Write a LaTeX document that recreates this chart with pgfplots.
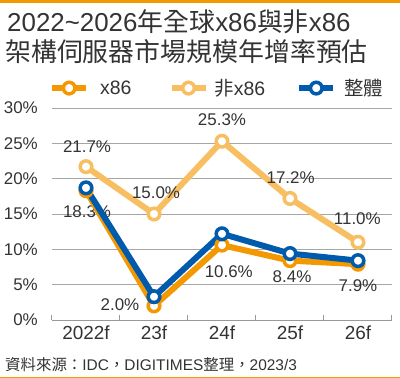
\documentclass[border=0pt]{standalone}
\usepackage{pgfplots}
\pgfplotsset{compat=1.18}
\usepackage{fontspec}
\setmainfont{Liberation Sans}
\newfontfamily\cjk{Noto Sans CJK TC}
\definecolor{cx}{HTML}{F39800}
\definecolor{cn}{HTML}{F7BF62}
\definecolor{ct}{HTML}{005BAC}
\definecolor{tx}{HTML}{333333}
\definecolor{gr}{HTML}{A6A6A6}
\begin{document}
\begin{tikzpicture}[x=1bp,y=1bp]
\path[use as bounding box] (-52,-58) rectangle (348,320);
\fill[cx] (-52,317) rectangle (348,320);
\draw[cx, line width=1.2bp] (-52,-57.4) -- (348,-57.4);
\node[anchor=base west, inner sep=0, text=tx, font=\fontsize{26}{30}\selectfont] at (-45,289) {2022\textasciitilde 2026{\cjk 年全球}x86{\cjk 與非}x86};
\node[anchor=base west, inner sep=0, text=tx, font=\fontsize{26}{30}\selectfont] at (-47,259) {\cjk 架構伺服器市場規模年增率預估};
\node[anchor=base west, inner sep=0, text=tx, font=\fontsize{15.5}{18}\selectfont] at (-47,-50) {{\cjk 資料來源：}IDC{\cjk ，}DIGITIMES{\cjk 整理，}2023/3};
\begin{axis}[
  at={(0,0)}, anchor=south west, scale only axis,
  width=340bp, height=212bp,
  xmin=-0.5, xmax=4.5, ymin=0, ymax=30,
  clip=false,
  axis x line*=bottom, axis y line*=left,
  y axis line style={draw=none},
  x axis line style={draw=gray!80, line width=1bp},
  ytick={0,5,...,30},
  yticklabels={0\%,5\%,10\%,15\%,20\%,25\%,30\%},
  xtick={0,...,4},
  xticklabels={2022f,23f,24f,25f,26f},
  minor xtick={-0.5,0.5,...,4.5},
  major tick length=0pt,
  minor tick length=5bp,
  tick align=inside,
  minor tick style={draw=gray!80, line width=1bp},
  ymajorgrids,
  grid style={gr, line width=1bp},
  yticklabel style={font=\fontsize{17}{17}\selectfont, text=tx, inner sep=0pt, anchor=east, xshift=-14bp},
  xticklabel style={font=\fontsize{19}{19}\selectfont, text=tx, inner sep=0pt, anchor=north, yshift=-6bp},
  legend columns=3,
  legend style={draw=none, fill=none, at={(-0.0088,1.094)}, anchor=west,
    inner sep=0pt, column sep=0pt,
    font=\fontsize{19.5}{19.5}\selectfont, text=tx,
    nodes={inner sep=0pt},
    /tikz/every odd column/.style={column sep=0pt},
    /tikz/every even column/.style={column sep=0pt}},
  legend image code/.code={\draw[mark repeat=2, mark phase=2, #1] plot coordinates {(0bp,0bp)(17bp,0bp)(34bp,0bp)};},
  every axis plot/.append style={line width=6bp, mark=*, mark size=5.8bp, mark options={fill=white, line width=3.5bp}},
]
\addlegendimage{cx, line width=6bp, mark=*, mark size=5.8bp, mark options={fill=white, line width=3.5bp}}
\addlegendentry{\hspace*{11bp}x86\hspace*{37bp}}
\addlegendimage{cn, line width=6bp, mark=*, mark size=5.8bp, mark options={fill=white, line width=3.5bp}}
\addlegendentry{\hspace*{6bp}{\cjk 非}x86\hspace*{31bp}}
\addlegendimage{ct, line width=6bp, mark=*, mark size=5.8bp, mark options={fill=white, line width=3.5bp}}
\addlegendentry{\hspace*{8bp}{\cjk 整體}}
\begin{scope}[font=\fontsize{17}{17}\selectfont, text=tx]
\node at (axis cs:0.015,15.4) {18.3\%};
\end{scope}
\addplot[cn, forget plot] coordinates {(0,21.7)(1,15.0)(2,25.3)(3,17.2)(4,11.0)};
\addplot[cx, forget plot] coordinates {(0,18.3)(1,2.0)(2,10.6)(3,8.4)(4,7.9)};
\addplot[ct, forget plot] coordinates {(0,18.7)(1,3.3)(2,12.2)(3,9.4)(4,8.4)};
\begin{scope}[font=\fontsize{17}{17}\selectfont, text=tx]
\node at (axis cs:0.015,24.6) {21.7\%};
\node at (axis cs:1.03,18.0) {15.0\%};
\node at (axis cs:0.5,2.1) {2.0\%};
\node at (axis cs:2.0,28.4) {25.3\%};
\node at (axis cs:2.10,6.8) {10.6\%};
\node at (axis cs:3.01,20.2) {17.2\%};
\node at (axis cs:3.03,6.2) {8.4\%};
\node at (axis cs:3.99,14.3) {11.0\%};
\node at (axis cs:4.0,4.8) {7.9\%};
\end{scope}
\end{axis}
\end{tikzpicture}
\end{document}
